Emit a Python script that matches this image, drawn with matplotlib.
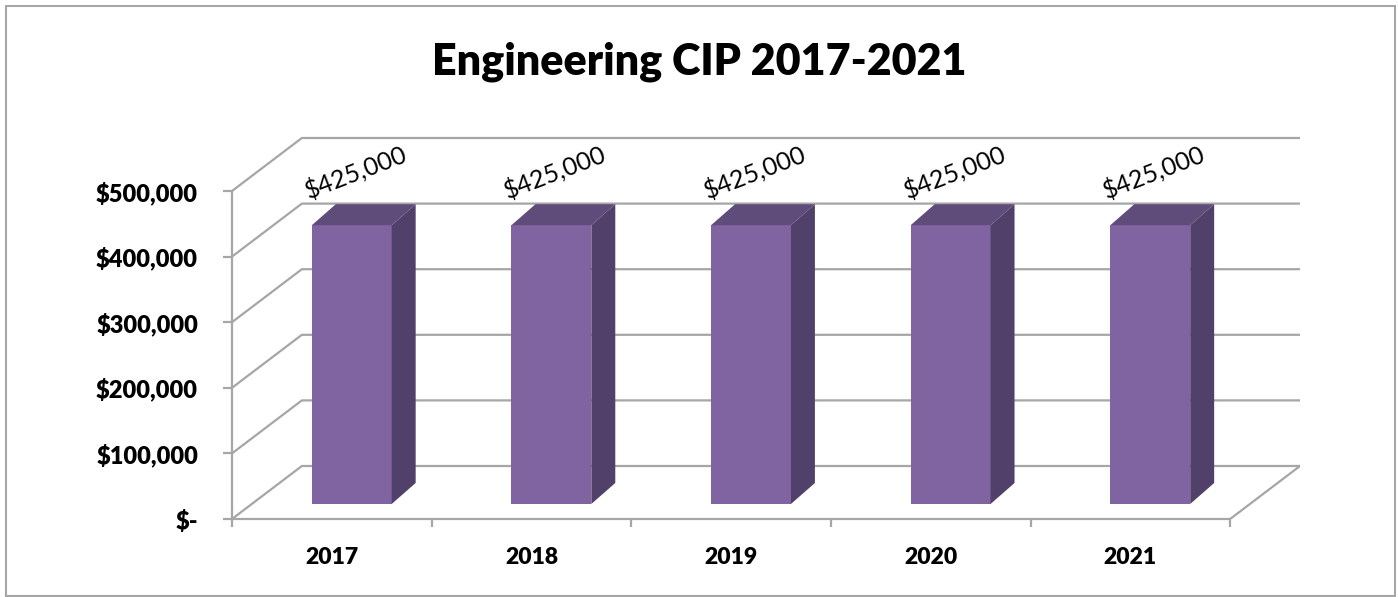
import matplotlib
matplotlib.use("Agg")
import matplotlib.pyplot as plt
from matplotlib.patches import Rectangle
from matplotlib.ticker import FuncFormatter

plt.rcParams['font.family'] = ['Lato', 'DejaVu Sans']

years = ['2017', '2018', '2019', '2020', '2021']
budget = [425000, 425000, 425000, 425000, 425000]
y_ticks = [0, 100000, 200000, 300000, 400000, 500000]
title = 'Engineering CIP 2017-2021'

# oblique "3D" offsets, in data units (x in categories, y in dollars)
wall_dx, wall_dy = 0.35, 80800      # back wall / floor depth
front_dx, front_dy = 0.10, 22900    # bar front face sits inside the floor
side_dx, side_dy = 0.12, 32000      # bar depth
bar_w = 0.4

front_c = '#8064a2'
top_c = '#604c7b'
side_c = '#514069'
grid_c = '#a6a6a6'

fig = plt.figure(figsize=(13.98, 5.97), dpi=100)
ax = fig.add_axes([232 / 1398, 78 / 597, 1068 / 1398, 383.1 / 597])
ax.set_xlim(0, 5.35)
ax.set_ylim(0, 584000)
n = len(years)

# walls and gridlines
for v in y_ticks:
    ax.plot([0, wall_dx, n + wall_dx], [v, v + wall_dy, v + wall_dy],
            color=grid_c, lw=1.6, zorder=1, solid_capstyle='butt')
ax.plot([n, n + wall_dx], [0, wall_dy], color=grid_c, lw=1.6, zorder=1)

# bars: front face with ax.bar, top and side faces as polygons
xs = [i + 0.5 + front_dx for i in range(n)]
ax.bar(xs, budget, width=bar_w, bottom=front_dy, color=front_c, zorder=3)
for x, v in zip(xs, budget):
    x0, x1 = x - bar_w / 2, x + bar_w / 2
    y0, y1 = front_dy, front_dy + v
    ax.fill([x0, x1, x1 + side_dx, x0 + side_dx],
            [y1, y1, y1 + side_dy, y1 + side_dy], color=top_c, zorder=3, lw=0)
    ax.fill([x1, x1 + side_dx, x1 + side_dx, x1],
            [y0, y0 + side_dy, y1 + side_dy, y1], color=side_c, zorder=3, lw=0)
    ax.annotate(f'${v:,.0f}', (x + side_dx / 2, y1 + side_dy),
                xytext=(-6, 23), textcoords='offset points',
                ha='center', va='center', rotation=21, fontsize=18,
                color='black', zorder=4)

# axes
for s in ['top', 'right']:
    ax.spines[s].set_visible(False)
for s in ['left', 'bottom']:
    ax.spines[s].set_color(grid_c)
    ax.spines[s].set_linewidth(1.6)
ax.spines['left'].set_bounds(0, 500000)
ax.spines['bottom'].set_bounds(0, n)

ax.set_yticks(y_ticks)
ax.yaxis.set_major_formatter(FuncFormatter(lambda v, p: '$-' if v == 0 else f'${v:,.0f}'))
ax.tick_params(axis='y', direction='out', length=6.5, width=1.6, color=grid_c,
               pad=18, labelsize=17)
for lab in ax.get_yticklabels():
    lab.set_fontweight('heavy')

ax.set_xticks(range(n + 1))
ax.set_xticklabels([])
ax.set_xticks([i + 0.5 for i in range(n)], minor=True)
ax.set_xticklabels(years, minor=True, fontsize=16.5, fontweight='heavy')
ax.tick_params(axis='x', which='major', direction='out', length=6, width=1.6, color=grid_c)
ax.tick_params(axis='x', which='minor', length=0, pad=20)

fig.text(0.5, 522 / 597, title, ha='center', va='baseline',
         fontsize=31, fontweight='heavy')

fig.add_artist(Rectangle((6 / 1398, 1 / 597), 1389 / 1398, 590 / 597,
                         transform=fig.transFigure, fill=False,
                         edgecolor='#a6a6a6', lw=1.5))

fig.savefig('out.png', dpi=100)
